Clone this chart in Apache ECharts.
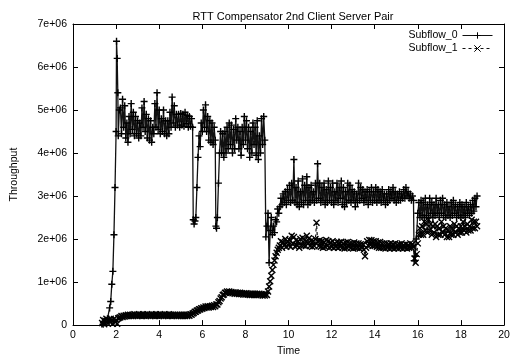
<!DOCTYPE html>
<html><head><meta charset="utf-8">
<script src="https://cdn.jsdelivr.net/npm/echarts@6/dist/echarts.min.js"></script>
<style>html,body{margin:0;padding:0;background:#fff}#c{width:515px;height:362px}</style>
</head><body><div id="c"></div>
<script>
// values in millions (tick labels show e+06)
const xTicks = [0,2,4,6,8,10,12,14,16,18,20];
const yTicks = ['0','1e+06','2e+06','3e+06','4e+06','5e+06','6e+06','7e+06'];
const subflow0 = [
[1.40,0.02],[1.50,0.08],[1.60,0.15],[1.70,0.40],[1.75,0.55],[1.80,0.95],[1.85,1.25],[1.90,2.10],[1.95,3.20],[2.00,4.50],[2.02,6.60],[2.05,6.20],[2.08,5.40],[2.10,4.40],[2.15,5.00],
[2.20,5.05],[2.25,4.45],[2.30,5.25],[2.35,4.6],[2.40,5.1],[2.45,4.35],[2.50,4.7],[2.55,4.25],[2.60,4.85],[2.65,4.45],[2.70,5.15],[2.75,4.55],[2.80,4.95],[2.85,4.4],[2.90,4.85],[2.95,4.45],[3.00,4.75],[3.05,4.35],[3.10,4.7],[3.15,4.4],[3.20,5.05],[3.25,4.6],[3.30,5.2],[3.35,4.5],[3.40,4.9],[3.45,4.35],[3.50,4.8],[3.55,4.3],[3.60,4.75],[3.65,4.25],[3.70,4.6],[3.75,4.45],[3.80,5.15],[3.85,4.6],[3.90,5.4],[3.95,4.55],[4.00,5.0],[4.05,4.45],[4.10,4.8],[4.15,4.5],[4.20,5.0],[4.25,4.45],[4.30,4.75],[4.35,4.4],[4.40,4.75],[4.45,4.45],[4.50,4.95],[4.55,4.6],[4.60,5.3],[4.65,4.7],[4.70,5.1],[4.75,4.6],[4.80,4.9],[4.85,4.65],[4.90,4.9],[4.95,4.6],[5.00,4.92],[5.05,4.65],[5.10,4.9],[5.15,4.62],[5.20,4.95],[5.25,4.68],[5.30,4.88],[5.35,4.6],[5.40,4.85],[5.45,4.62],[5.50,4.8],
[5.55,4.6],[5.58,2.45],[5.62,2.35],[5.66,2.42],[5.70,2.5],[5.75,3.2],[5.80,3.9],[5.85,4.4],[5.90,4.15],[5.95,4.7],[6.00,4.5],[6.05,5.0],[6.10,4.6],[6.15,5.12],[6.20,4.5],[6.25,4.85],[6.30,4.3],[6.35,4.75],[6.40,4.25],[6.45,4.7],[6.50,4.2],[6.55,4.6],[6.60,4.3],
[6.63,2.3],[6.66,2.25],[6.70,2.5],[6.75,3.3],[6.80,4.0],[6.85,4.5],[6.90,4.0],[6.95,4.45],[7.00,3.9],[7.05,4.5],[7.10,4.0],[7.15,4.6],[7.20,4.1],[7.25,4.7],[7.30,4.2],[7.35,4.65],[7.40,4.0],[7.45,4.55],[7.50,4.1],[7.55,4.8],[7.60,4.3],[7.65,4.6],[7.70,4.1],[7.75,4.5],[7.80,3.95],[7.85,4.6],[7.90,4.2],[7.95,4.85],[8.00,4.3],[8.05,4.75],[8.10,4.1],[8.15,4.6],[8.20,3.9],[8.25,4.5],[8.30,4.0],[8.35,4.7],[8.40,4.2],[8.45,4.6],[8.50,3.95],[8.55,4.75],[8.60,3.85],[8.65,4.4],[8.70,4.0],[8.75,4.8],[8.80,4.2],[8.85,4.85],[8.90,4.3],
[8.95,2.05],[9.00,2.3],[9.05,2.6],[9.10,1.45],[9.15,2.2],[9.20,2.5],[9.25,2.1],[9.30,2.3],[9.35,2.15],[9.40,2.45],[9.45,2.4],[9.50,2.7],[9.55,2.6],
[9.60,2.75],[9.65,2.95],[9.70,2.8],[9.75,3.05],[9.80,2.85],[9.85,3.1],[9.90,2.8],[9.95,3.15],[10.00,2.9],[10.05,3.25],[10.10,2.85],[10.15,3.3],[10.20,2.9],[10.25,3.85],[10.30,2.85],[10.35,3.2],[10.40,2.8],[10.45,3.35],[10.50,2.75],[10.55,3.1],[10.60,2.85],[10.65,3.4],[10.70,2.8],[10.75,3.25],[10.80,2.9],[10.85,3.45],[10.90,2.8],[10.95,3.2],[11.00,2.85],[11.05,3.25],[11.10,2.9],[11.15,3.1],[11.20,2.85],[11.25,3.3],[11.30,2.9],[11.35,3.75],[11.40,2.95],[11.45,3.3],[11.50,2.85],[11.55,3.2],[11.60,2.9],[11.65,3.3],[11.70,2.8],[11.75,3.15],[11.80,2.85],[11.85,3.35],[11.90,2.9],[11.95,3.2],[12.00,2.85],[12.05,3.3],[12.10,2.8],[12.15,3.1],[12.20,2.9],[12.25,3.3],[12.30,2.85],[12.35,3.2],[12.40,2.95],[12.45,3.35],[12.50,2.8],[12.55,3.2],[12.60,2.75],[12.65,3.1],[12.70,2.85],[12.75,3.3],[12.80,2.9],[12.85,3.25],[12.90,2.85],[12.95,3.15],[13.00,2.9],[13.05,3.1],[13.10,2.75],[13.15,3.05],[13.20,2.85],[13.25,3.3],[13.30,2.9],[13.35,3.2],[13.40,2.95],[13.45,3.15],[13.50,2.85],[13.55,3.1],[13.60,2.9],[13.65,3.15],[13.70,2.8],[13.75,3.1],[13.80,2.9],[13.85,3.2],[13.90,2.85],[13.95,3.1],[14.00,2.9],[14.05,3.2],[14.10,2.85],[14.15,3.15],[14.20,2.9],[14.25,3.1],[14.30,2.85],[14.35,3.15],[14.40,2.9],[14.45,3.05],[14.50,2.8],[14.55,3.05],[14.60,2.85],[14.65,3.15],[14.70,2.9],[14.75,3.1],[14.80,2.95],[14.85,3.2],[14.90,2.9],[14.95,3.1],[15.00,2.85],[15.05,3.05],[15.10,2.9],[15.15,3.1],[15.20,2.9],[15.25,3.05],[15.30,2.95],[15.35,3.15],[15.40,2.95],[15.45,3.2],[15.50,3.0],[15.55,3.1],[15.60,2.95],[15.65,3.05],[15.70,2.9],[15.75,3.0],[15.80,2.9],
[15.83,1.5],[15.88,1.6],[15.93,2.0],
[16.00,2.6],[16.05,2.85],[16.10,2.5],[16.15,2.9],[16.20,2.55],[16.25,2.85],[16.30,2.5],[16.35,2.95],[16.40,2.55],[16.45,2.8],[16.50,2.5],[16.55,2.95],[16.60,2.6],[16.65,2.85],[16.70,2.5],[16.75,2.8],[16.80,2.55],[16.85,2.95],[16.90,2.6],[16.95,2.8],[17.00,2.5],[17.05,2.9],[17.10,2.6],[17.15,2.95],[17.20,2.55],[17.25,2.8],[17.30,2.5],[17.35,2.85],[17.40,2.55],[17.45,2.75],[17.50,2.5],[17.55,2.85],[17.60,2.55],[17.65,2.9],[17.70,2.6],[17.75,2.8],[17.80,2.5],[17.85,2.75],[17.90,2.55],[17.95,2.85],[18.00,2.5],[18.05,2.8],[18.10,2.55],[18.15,2.75],[18.20,2.5],[18.25,2.85],[18.30,2.6],[18.35,2.75],[18.40,2.55],[18.45,2.8],[18.50,2.6],[18.55,2.9],[18.60,2.65],[18.65,2.95],[18.70,2.75],[18.75,3.0]
];
const subflow1 = [
[1.35,0.05],[1.4,0.12],[1.45,0.02],[1.5,0.1],[1.55,0.15],[1.6,0.05],[1.65,0.12],[1.7,0.08],[1.75,0.15],[1.8,0.1],[1.85,0.03],[1.9,0.14],[1.95,0.08],[2.0,0.12],[2.05,0.03],[2.1,0.16],[2.15,0.17],[2.2,0.18],[2.25,0.21],[2.3,0.19],[2.35,0.22],[2.4,0.2],[2.45,0.23],[2.5,0.21],[2.55,0.24],[2.6,0.21],[2.65,0.24],[2.7,0.21],[2.75,0.24],[2.8,0.21],[2.85,0.25],[2.9,0.22],[2.95,0.24],[3.0,0.21],[3.05,0.25],[3.1,0.22],[3.15,0.24],[3.2,0.21],[3.25,0.25],[3.3,0.22],[3.35,0.24],[3.4,0.21],[3.45,0.25],[3.5,0.22],[3.55,0.24],[3.6,0.21],[3.65,0.25],[3.7,0.22],[3.75,0.24],[3.8,0.21],[3.85,0.25],[3.9,0.22],[3.95,0.24],[4.0,0.21],[4.05,0.25],[4.1,0.22],[4.15,0.24],[4.2,0.21],[4.25,0.25],[4.3,0.22],[4.35,0.24],[4.4,0.21],[4.45,0.25],[4.5,0.22],[4.55,0.24],[4.6,0.21],[4.65,0.24],[4.7,0.22],[4.75,0.24],[4.8,0.21],[4.85,0.24],[4.9,0.21],[4.95,0.24],[5.0,0.21],[5.05,0.24],[5.1,0.21],[5.15,0.24],[5.2,0.21],[5.25,0.24],[5.3,0.21],[5.35,0.24],[5.4,0.22],[5.45,0.25],[5.5,0.24],[5.55,0.27],[5.6,0.28],[5.65,0.31],[5.7,0.31],[5.75,0.34],[5.8,0.34],[5.85,0.37],[5.9,0.36],[5.95,0.39],[6.0,0.38],[6.05,0.41],[6.1,0.4],[6.15,0.43],[6.2,0.41],[6.25,0.44],[6.3,0.41],[6.35,0.44],[6.4,0.42],[6.45,0.45],[6.5,0.42],[6.55,0.46],[6.6,0.44],[6.65,0.48],[6.7,0.48],[6.75,0.53],[6.8,0.56],[6.85,0.62],[6.9,0.65],[6.95,0.7],[7.0,0.71],[7.05,0.75],[7.1,0.75],[7.15,0.78],[7.2,0.76],[7.25,0.78],[7.3,0.75],[7.35,0.77],[7.4,0.74],[7.45,0.76],[7.5,0.73],[7.55,0.76],[7.6,0.73],[7.65,0.75],[7.7,0.72],[7.75,0.75],[7.8,0.72],[7.85,0.74],[7.9,0.71],[7.95,0.74],[8.0,0.71],[8.05,0.74],[8.1,0.71],[8.15,0.73],[8.2,0.7],[8.25,0.73],[8.3,0.7],[8.35,0.73],[8.4,0.7],[8.45,0.73],[8.5,0.7],[8.55,0.73],[8.6,0.7],[8.65,0.73],[8.7,0.7],[8.75,0.72],[8.8,0.69],[8.85,0.72],[8.9,0.69],[8.95,0.72],[9.0,0.7],
[9.05,0.78],[9.1,0.9],[9.15,1.02],[9.2,1.15],[9.25,1.28],[9.3,1.4],[9.35,1.5],[9.4,1.6],[9.45,1.68],[9.5,1.75],[9.55,1.8],
[9.6,1.85],[9.65,1.95],[9.7,1.8],[9.75,1.92],[9.8,1.85],[9.85,2.0],[9.9,1.82],[9.95,1.95],[10.0,1.85],[10.05,1.98],[10.1,1.82],[10.15,2.08],[10.2,1.9],[10.25,2.05],[10.3,1.83],[10.35,1.97],[10.4,1.85],[10.45,1.95],[10.5,1.8],[10.55,2.0],[10.6,1.85],[10.65,2.03],[10.7,1.85],[10.75,1.98],[10.8,1.84],[10.85,2.08],[10.9,1.9],[10.95,2.02],[11.0,1.84],[11.05,1.96],[11.1,1.82],[11.15,1.95],[11.2,1.84],[11.25,2.0],[11.3,2.38],[11.35,1.95],[11.4,1.84],[11.45,1.97],[11.5,1.82],[11.55,1.95],[11.6,1.8],[11.65,1.93],[11.7,1.82],[11.75,1.98],[11.8,1.84],[11.85,1.95],[11.9,1.8],[11.95,1.92],[12.0,1.82],[12.05,1.95],[12.1,1.8],[12.15,1.9],[12.2,1.82],[12.25,1.93],[12.3,1.8],[12.35,1.92],[12.4,1.82],[12.45,1.94],[12.5,1.8],[12.55,1.9],[12.6,1.78],[12.65,1.92],[12.7,1.8],[12.75,1.93],[12.8,1.82],[12.85,1.9],[12.9,1.8],[12.95,1.9],[13.0,1.78],[13.05,1.92],[13.1,1.8],[13.15,1.9],[13.2,1.8],[13.25,1.9],[13.3,1.78],[13.35,1.88],[13.4,1.8],[13.45,1.88],[13.5,1.75],[13.55,1.6],[13.6,1.8],[13.65,1.95],[13.7,1.85],[13.75,1.98],[13.8,1.86],[13.85,1.97],[13.9,1.84],[13.95,1.95],[14.0,1.84],[14.05,1.95],[14.1,1.82],[14.15,1.92],[14.2,1.8],[14.25,1.93],[14.3,1.8],[14.35,1.9],[14.4,1.8],[14.45,1.9],[14.5,1.78],[14.55,1.9],[14.6,1.8],[14.65,1.88],[14.7,1.78],[14.75,1.9],[14.8,1.8],[14.85,1.88],[14.9,1.78],[14.95,1.9],[15.0,1.8],[15.05,1.87],[15.1,1.78],[15.15,1.88],[15.2,1.8],[15.25,1.9],[15.3,1.78],[15.35,1.86],[15.4,1.8],[15.45,1.88],[15.5,1.78],[15.55,1.86],[15.6,1.8],[15.65,1.9],[15.7,1.8],[15.75,1.88],[15.8,1.82],
[15.85,1.55],[15.9,1.45],[15.95,1.65],
[16.0,1.9],[16.05,2.1],[16.1,2.25],[16.15,2.1],[16.2,2.3],[16.25,2.1],[16.3,2.4],[16.35,2.2],[16.4,2.35],[16.45,2.15],[16.5,2.45],[16.55,2.2],[16.6,2.35],[16.65,2.1],[16.7,2.3],[16.75,2.15],[16.8,2.35],[16.85,2.05],[16.9,2.3],[16.95,2.1],[17.0,2.25],[17.05,2.1],[17.1,2.4],[17.15,2.15],[17.2,2.3],[17.25,2.1],[17.3,2.25],[17.35,2.05],[17.4,2.2],[17.45,2.05],[17.5,2.3],[17.55,2.1],[17.6,2.25],[17.65,2.1],[17.7,2.35],[17.75,2.15],[17.8,2.3],[17.85,2.1],[17.9,2.25],[17.95,2.15],[18.0,2.3],[18.05,2.15],[18.1,2.4],[18.15,2.2],[18.2,2.3],[18.25,2.15],[18.3,2.35],[18.35,2.2],[18.4,2.3],[18.45,2.2],[18.5,2.45],[18.55,2.25],[18.6,2.4],[18.65,2.25],[18.7,2.4],[18.75,2.3]
];

const FONT = 'Liberation Sans';
const chart = echarts.init(document.getElementById('c'), null, {renderer:'canvas'});
const axisCommon = {
  axisLine:{show:true, onZero:false, lineStyle:{color:'#000', width:1}},
  axisTick:{show:true, inside:true, length:5, lineStyle:{color:'#000'}},
  splitLine:{show:false}
};
chart.setOption({
  animation:false,
  backgroundColor:'#fff',
  title:{text:'RTT Compensator 2nd Client Server Pair', left:288, textAlign:'center', top:6,
    textStyle:{fontFamily:FONT, fontSize:11, fontWeight:'normal', color:'#000'}},
  legend:{orient:'vertical', right:22, top:30, padding:0, align:'right', itemWidth:30, itemHeight:8, itemGap:2,
    lineStyle:{width:1}, itemStyle:{borderWidth:1},
    textStyle:{fontFamily:FONT, fontSize:10.5, color:'#000'},
    data:['Subflow_0','Subflow_1']},
  grid:{left:73, right:11, top:24, bottom:36},
  xAxis:[
    Object.assign({type:'value', min:0, max:20, interval:2, position:'bottom',
      name:'Time', nameLocation:'middle', nameGap:19,
      nameTextStyle:{fontFamily:FONT, fontSize:10.5, color:'#000'},
      axisLabel:{fontFamily:FONT, fontSize:10.5, color:'#000', margin:5,
        formatter:v=>xTicks.includes(v)?String(v):''}}, axisCommon),
    Object.assign({type:'value', min:0, max:20, interval:2, position:'top', axisLabel:{show:false}}, axisCommon)
  ],
  yAxis:[
    Object.assign({type:'value', min:0, max:7, interval:1, position:'left',
      name:'Throughput', nameLocation:'middle', nameGap:53, nameRotate:90,
      nameTextStyle:{fontFamily:FONT, fontSize:10.5, color:'#000'},
      axisLabel:{fontFamily:FONT, fontSize:10.5, color:'#000', margin:6,
        formatter:v=>yTicks[Math.round(v)]}}, axisCommon),
    Object.assign({type:'value', min:0, max:7, interval:1, position:'right', axisLabel:{show:false}}, axisCommon)
  ],
  series:[
    {name:'Subflow_0', type:'line', data:subflow0, showAllSymbol:true,
      symbol:'path://M0,5L10,5M5,0L5,10', symbolSize:7,
      itemStyle:{color:'#000', borderColor:'#000', borderWidth:1.4},
      lineStyle:{color:'#111', width:1.3}},
    {name:'Subflow_1', type:'line', data:subflow1, showAllSymbol:true,
      symbol:'path://M0,0L10,10M10,0L0,10', symbolSize:6,
      itemStyle:{color:'#000', borderColor:'#000', borderWidth:1.4},
      lineStyle:{color:'#111', width:1.2, type:[3,3]}}
  ]
});
</script></body></html>
